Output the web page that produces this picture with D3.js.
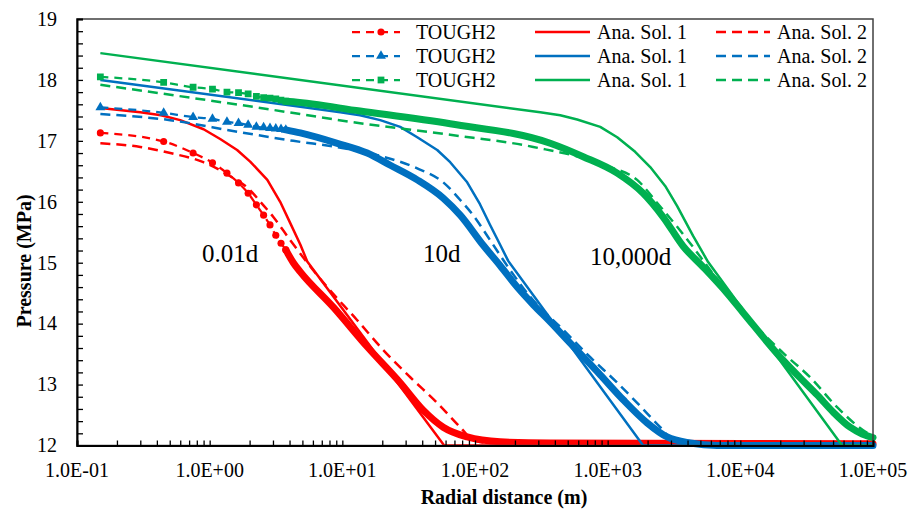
<!DOCTYPE html>
<html>
<head>
<meta charset="utf-8">
<script src="https://cdn.jsdelivr.net/npm/d3@7"></script>
<style>
  body { margin: 0; background: #fff; }
  svg { display: block; font-family: "Liberation Serif", "Times New Roman", serif; }
</style>
</head>
<body>
<svg id="chart" width="909" height="513"></svg>
<script>
// ---- axis definitions ----
const xTickValues = [0.1, 1, 10, 100, 1000, 10000, 100000];
const xTickLabels = ["1.0E-01", "1.0E+00", "1.0E+01", "1.0E+02", "1.0E+03", "1.0E+04", "1.0E+05"];
const yTickValues = [12, 13, 14, 15, 16, 17, 18, 19];
const yTickLabels = ["12", "13", "14", "15", "16", "17", "18", "19"];

const seriesNames = ["TOUGH2", "Ana. Sol. 1", "Ana. Sol. 2"];
const timeLabels = ["0.01d", "10d", "10,000d"];
const timeColors = ["#FF0000", "#0070C0", "#00B050"];

// ---- 0.01 d : [radius (m), pressure (MPa)] ----
const tough2Nodes001d = [[0.15,17.13],[0.45,16.99],[0.75,16.80],[1.05,16.64],[1.35,16.47],[1.65,16.31],[1.95,16.14],[2.25,15.95],[2.55,15.78],[2.85,15.62],[3.15,15.45],[3.45,15.32],[3.75,15.21]];
const tough2Band001d = [[4.27,15.00],[4.82,14.85],[8.55,14.27],[15.4,13.62],[27.3,13.03],[40.7,12.58],[57.6,12.30],[87.3,12.14],[155,12.06],[369,12.04],[100000,12.03]];
const anaSol1_001d = [[0.15,17.54],[0.30,17.47],[0.43,17.42],[0.60,17.34],[0.90,17.19],[1.20,17.03],[1.61,16.85],[2.02,16.66],[2.72,16.36],[3.40,16.00],[4.05,15.65],[4.82,15.30],[5.44,15.02],[58.6,12.0],[100000,12.0]];
const anaSol2_001d = [[0.15,16.96],[0.30,16.90],[0.505,16.80],[0.896,16.65],[1.43,16.42],[2.02,16.19],[2.41,16.00],[3.02,15.75],[4.05,15.37],[5.44,15.00],[7.69,14.60],[12.9,14.06],[20.3,13.57],[32.5,13.12],[51.9,12.70],[77.4,12.30],[96.9,12.09],[130,12.04],[100000,12.04]];

// ---- 10 d ----
const tough2Nodes10d = [[0.15,17.55],[0.45,17.46],[0.75,17.39],[1.05,17.36],[1.35,17.31],[1.65,17.29],[1.95,17.26],[2.25,17.23],[2.55,17.22],[2.85,17.21],[3.15,17.20],[3.45,17.19],[3.75,17.18]];
const tough2Band10d = [[4.82,17.13],[9.16,16.96],[15.4,16.80],[23.0,16.60],[36.7,16.36],[57.6,16.06],[77.4,15.78],[115,15.29],[155,14.95],[208,14.60],[275,14.31],[369,14.03],[522,13.68],[879,13.16],[1310,12.75],[1986,12.37],[2808,12.14],[4185,12.04],[6686,12.0],[100000,12.0]];
const anaSol1_10d = [[0.15,18.00],[4.82,17.56],[9.64,17.47],[13.6,17.42],[19.3,17.34],[27.3,17.23],[36.7,17.06],[51.9,16.85],[65.0,16.65],[87.3,16.32],[109,15.96],[130,15.62],[155,15.29],[178,15.03],[1852,12.0],[100000,12.0]];
const anaSol2_10d = [[0.15,17.44],[0.505,17.34],[1.61,17.15],[4.27,17.00],[10.2,16.88],[20.3,16.74],[36.7,16.55],[57.6,16.32],[77.4,16.03],[96.9,15.78],[130,15.37],[184,14.88],[261,14.44],[462,13.90],[739,13.45],[1180,13.03],[1667,12.70],[2489,12.30],[3118,12.09],[4977,12.03],[100000,12.02]];

// ---- 10,000 d ----
const tough2Nodes10000d = [[0.15,18.05],[0.45,17.96],[0.75,17.88],[1.05,17.85],[1.35,17.80],[1.65,17.79],[1.95,17.77],[2.25,17.73],[2.55,17.71],[2.85,17.70],[3.15,17.69],[3.45,17.67],[3.75,17.65]];
const tough2Band10000d = [[4.27,17.64],[13.6,17.49],[65,17.28],[369,16.96],[654,16.74],[1180,16.47],[1852,16.14],[2620,15.75],[3707,15.27],[5244,14.93],[7946,14.50],[10500,14.18],[21000,13.40],[28250,13.11],[37930,12.83],[50000,12.55],[67150,12.30],[82800,12.19],[100000,12.13]];
const anaSol1_10000d = [[0.15,18.44],[310,17.47],[439,17.42],[589,17.35],[879,17.23],[1180,17.06],[1611,16.82],[2093,16.57],[2713,16.26],[3342,15.93],[4404,15.44],[4977,15.24],[5718,15.01],[58500,12.0],[100000,12.0]];
const anaSol2_10000d = [[0.15,17.92],[2.41,17.54],[13.6,17.29],[65.0,17.10],[275,16.90],[1045,16.57],[1667,16.36],[2363,15.98],[3342,15.59],[4185,15.32],[5926,14.88],[11860,14.06],[21000,13.52],[33560,13.12],[53600,12.63],[84300,12.25],[100000,12.15]];

// ---- layout ----
const svg = d3.select("#chart");
const plot = { left: 77, right: 873, top: 19, bottom: 445.5 };

const x = d3.scaleLog().domain([0.1, 100000]).range([plot.left, plot.right]);
const y = d3.scaleLinear().domain([12, 19]).range([plot.bottom, plot.top]);

const groups = [
  { color: timeColors[0], symbol: d3.symbolCircle,   size: 40, nodes: tough2Nodes001d,   band: tough2Band001d,   sol1: anaSol1_001d,   sol2: anaSol2_001d },
  { color: timeColors[1], symbol: d3.symbolTriangle, size: 42, nodes: tough2Nodes10d,    band: tough2Band10d,    sol1: anaSol1_10d,    sol2: anaSol2_10d },
  { color: timeColors[2], symbol: d3.symbolSquare,   size: 46, nodes: tough2Nodes10000d, band: tough2Band10000d, sol1: anaSol1_10000d, sol2: anaSol2_10000d }
];

svg.append("defs").append("clipPath").attr("id", "plotClip")
  .append("rect")
  .attr("x", plot.left).attr("y", plot.top - 4)
  .attr("width", plot.right - plot.left + 4).attr("height", plot.bottom - plot.top + 8);

// straight segments keep the sharp kink of solution 1; the others are smooth
const line = d3.line().x(d => x(d[0])).y(d => y(d[1]));
const smooth = d3.line().x(d => x(d[0])).y(d => y(d[1])).curve(d3.curveMonotoneX);

const layer = svg.append("g").attr("clip-path", "url(#plotClip)");

groups.forEach(g => {
  // TOUGH2: dashed connector, dense-grid band, node markers
  layer.append("path").datum(g.nodes.concat(g.band))
    .attr("d", smooth).attr("fill", "none")
    .attr("stroke", g.color).attr("stroke-width", 2.25)
    .attr("stroke-dasharray", "8,6");
  layer.append("path").datum([g.nodes[g.nodes.length - 1]].concat(g.band))
    .attr("d", smooth).attr("fill", "none")
    .attr("stroke", g.color).attr("stroke-width", 7)
    .attr("stroke-linejoin", "round").attr("stroke-linecap", "round");
  layer.selectAll(null).data(g.nodes).join("path")
    .attr("transform", d => `translate(${x(d[0])},${y(d[1])})`)
    .attr("d", d3.symbol().type(g.symbol).size(g.size))
    .attr("fill", g.color);

  // analytical solution 1 (solid)
  layer.append("path").datum(g.sol1)
    .attr("d", line).attr("fill", "none")
    .attr("stroke", g.color).attr("stroke-width", 2.5)
    .attr("stroke-linejoin", "round");

  // analytical solution 2 (dashed)
  layer.append("path").datum(g.sol2)
    .attr("d", smooth).attr("fill", "none")
    .attr("stroke", g.color).attr("stroke-width", 2.5)
    .attr("stroke-dasharray", "10,6");
});

// ---- frame and axes ----
svg.append("rect")
  .attr("x", plot.left).attr("y", plot.top)
  .attr("width", plot.right - plot.left).attr("height", plot.bottom - plot.top)
  .attr("fill", "none").attr("stroke", "#404040").attr("stroke-width", 1.5);

const xAxis = d3.axisBottom(x).tickValues(x.ticks()).tickSize(-5).tickFormat("");
svg.append("g").attr("transform", `translate(0,${plot.bottom})`).call(xAxis)
  .call(a => a.select(".domain").attr("stroke", "#000").attr("stroke-width", 2))
  .call(a => a.selectAll(".tick line").attr("stroke", "#000").attr("stroke-width", 1.3));

const yMinor = d3.range(12, 19.001, 0.2);
const yAxis = d3.axisLeft(y).tickValues(yMinor).tickSize(-6).tickFormat("");
svg.append("g").attr("transform", `translate(${plot.left},0)`).call(yAxis)
  .call(a => a.select(".domain").attr("stroke", "#000").attr("stroke-width", 2))
  .call(a => a.selectAll(".tick line").attr("stroke", "#000").attr("stroke-width", 1.3));

// tick labels
svg.append("g").selectAll("text").data(xTickValues).join("text")
  .attr("x", d => x(d)).attr("y", 477)
  .attr("text-anchor", "middle").attr("font-size", 20).attr("fill", "#000")
  .text((d, i) => xTickLabels[i]);

svg.append("g").selectAll("text").data(yTickValues).join("text")
  .attr("x", 57).attr("y", d => y(d)).attr("dy", "0.34em")
  .attr("text-anchor", "end").attr("font-size", 20).attr("fill", "#000")
  .text((d, i) => yTickLabels[i]);

// axis titles
svg.append("text")
  .attr("x", 504).attr("y", 504)
  .attr("text-anchor", "middle").attr("font-size", 20).attr("font-weight", "bold")
  .text("Radial distance (m)");

svg.append("text")
  .attr("transform", "translate(31,261) rotate(-90)")
  .attr("text-anchor", "middle").attr("font-size", 20).attr("font-weight", "bold")
  .text("Pressure (MPa)");

// time annotations
const timeLabelPos = [[202, 262], [423, 262], [590, 265]];
svg.append("g").selectAll("text").data(timeLabels).join("text")
  .attr("x", (d, i) => timeLabelPos[i][0]).attr("y", (d, i) => timeLabelPos[i][1])
  .attr("font-size", 25).attr("fill", "#000")
  .text(d => d);

// ---- legend ----
const legend = svg.append("g");
const rowY = [32, 56, 80];
const colLine = [[352, 400], [535, 590], [716, 770]];
const colText = [416, 597, 777];
groups.forEach((g, r) => {
  const yy = rowY[r];
  // TOUGH2 sample
  legend.append("line")
    .attr("x1", colLine[0][0]).attr("x2", colLine[0][1]).attr("y1", yy).attr("y2", yy)
    .attr("stroke", g.color).attr("stroke-width", 2.25).attr("stroke-dasharray", "8,6");
  legend.append("path")
    .attr("transform", `translate(${(colLine[0][0] + colLine[0][1]) / 2 + 5},${yy})`)
    .attr("d", d3.symbol().type(g.symbol).size(g.size)).attr("fill", g.color);
  // solution 1 sample
  legend.append("line")
    .attr("x1", colLine[1][0]).attr("x2", colLine[1][1]).attr("y1", yy).attr("y2", yy)
    .attr("stroke", g.color).attr("stroke-width", 2.5);
  // solution 2 sample
  legend.append("line")
    .attr("x1", colLine[2][0]).attr("x2", colLine[2][1]).attr("y1", yy).attr("y2", yy)
    .attr("stroke", g.color).attr("stroke-width", 2.5).attr("stroke-dasharray", "10,6");
  seriesNames.forEach((name, c) => {
    legend.append("text")
      .attr("x", colText[c]).attr("y", yy).attr("dy", "0.34em")
      .attr("font-size", 20).attr("fill", "#000")
      .text(name);
  });
});
</script>
</body>
</html>
